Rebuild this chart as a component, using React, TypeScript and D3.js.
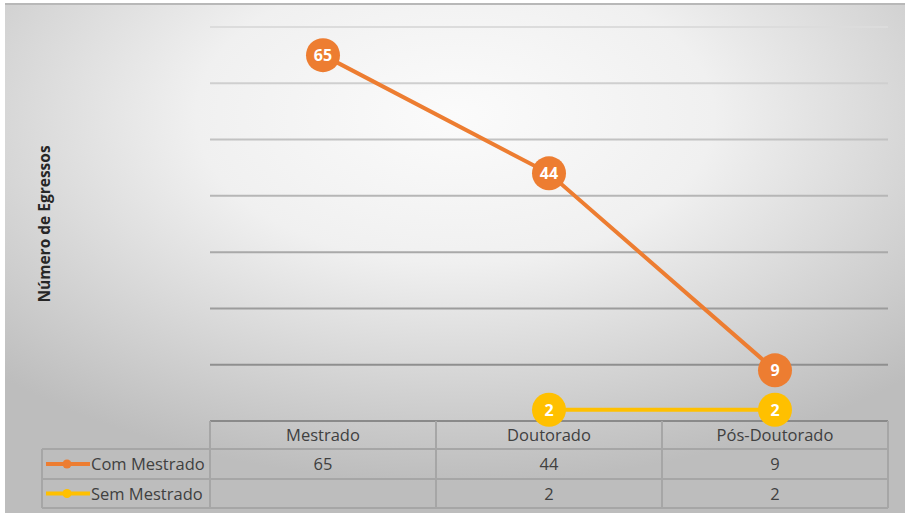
import React, { useEffect, useRef } from 'react';
import * as d3 from 'd3';

const categories = ['Mestrado', 'Doutorado', 'Pós-Doutorado'];
const comMestrado = [65, 44, 9];
const semMestrado = [null, 2, 2];
const seriesNames = ['Com Mestrado', 'Sem Mestrado'];
const seriesColors = ['#ED7D31', '#FFC000'];
const yTicks = [0, 10, 20, 30, 40, 50, 60, 70];

const App = () => {
  const svgRef = useRef<SVGSVGElement>(null);

  useEffect(() => {
    const svg = d3.select(svgRef.current);
    const font = "'Open Sans', 'Noto Sans', sans-serif";
    svg.selectAll('*').remove();

    const defs = svg.append('defs');
    const bg = defs.append('radialGradient')
      .attr('id', 'bg')
      .attr('cx', '50%').attr('cy', '22%').attr('r', '72%');
    bg.append('stop').attr('offset', '0%').attr('stop-color', '#fbfbfb');
    bg.append('stop').attr('offset', '40%').attr('stop-color', '#f0f0f0');
    bg.append('stop').attr('offset', '100%').attr('stop-color', '#bdbdbd');

    // chart background
    svg.append('rect')
      .attr('x', 5).attr('y', 3)
      .attr('width', 900).attr('height', 510)
      .attr('fill', 'url(#bg)');
    svg.append('line')
      .attr('x1', 5).attr('x2', 905).attr('y1', 4).attr('y2', 4)
      .attr('stroke', '#b8b8b8').attr('stroke-width', 2);

    const x = d3.scaleBand<string>()
      .domain(categories)
      .range([210, 888]);

    const y = d3.scaleLinear()
      .domain([0, 70])
      .range([421, 27]);

    const gridColor = d3.scaleLinear<string>()
      .domain([70, 10])
      .range(['#dcdcdc', '#8f8f8f']);

    // gridlines
    svg.append('g')
      .selectAll('line')
      .data(yTicks.filter(t => t > 0))
      .join('line')
      .attr('x1', 210).attr('x2', 888)
      .attr('y1', d => y(d)).attr('y2', d => y(d))
      .attr('stroke', d => gridColor(d))
      .attr('stroke-width', 2);

    // y-axis title
    svg.append('text')
      .attr('transform', `translate(50,${(y(0) + y(70)) / 2}) rotate(-90)`)
      .attr('text-anchor', 'middle')
      .attr('font-family', font)
      .attr('font-weight', 'bold')
      .attr('font-size', 15.5)
      .attr('fill', '#262626')
      .text('Número de Egressos');

    // data table
    const rowTop = [421, 449, 479];
    const rowBottom = [449, 479, 508];
    const table = svg.append('g');
    const stroke = '#a6a6a6';
    table.append('line').attr('x1', 210).attr('x2', 888).attr('y1', 421).attr('y2', 421)
      .attr('stroke', '#8a8a8a').attr('stroke-width', 2);
    [449, 479, 508].forEach(yy => {
      table.append('line').attr('x1', 42).attr('x2', 888).attr('y1', yy).attr('y2', yy)
        .attr('stroke', stroke).attr('stroke-width', 2);
    });
    table.append('line').attr('x1', 42).attr('x2', 42).attr('y1', 449).attr('y2', 508)
      .attr('stroke', stroke).attr('stroke-width', 2);
    const vx = [210, ...categories.map(c => (x(c) as number) + x.bandwidth())];
    vx.forEach(xx => {
      table.append('line').attr('x1', xx).attr('x2', xx).attr('y1', 421).attr('y2', 508)
        .attr('stroke', stroke).attr('stroke-width', 2);
    });

    const cx = (c: string) => (x(c) as number) + x.bandwidth() / 2;

    table.selectAll('text.cat')
      .data(categories)
      .join('text')
      .attr('class', 'cat')
      .attr('x', d => cx(d))
      .attr('y', (rowTop[0] + rowBottom[0]) / 2 + 6)
      .attr('text-anchor', 'middle')
      .attr('font-family', font)
      .attr('font-size', 16.5)
      .attr('fill', '#404040')
      .text(d => d);

    const allSeries = [comMestrado, semMestrado];
    allSeries.forEach((vals, si) => {
      const rowMid = (rowTop[si + 1] + rowBottom[si + 1]) / 2;
      table.append('g')
        .selectAll('text')
        .data(vals.map((v, i) => ({ v, c: categories[i] })).filter(d => d.v !== null))
        .join('text')
        .attr('x', d => cx(d.c))
        .attr('y', rowMid + 6)
        .attr('text-anchor', 'middle')
        .attr('font-family', font)
        .attr('font-size', 16.5)
        .attr('fill', '#404040')
        .text(d => String(d.v));

      // legend key
      table.append('line')
        .attr('x1', 46).attr('x2', 90)
        .attr('y1', rowMid).attr('y2', rowMid)
        .attr('stroke', seriesColors[si]).attr('stroke-width', 4);
      table.append('circle')
        .attr('cx', 67).attr('cy', rowMid).attr('r', 4.5)
        .attr('fill', seriesColors[si]);
      table.append('text')
        .attr('x', 91).attr('y', rowMid + 6)
        .attr('font-family', font)
        .attr('font-size', 16.5)
        .attr('fill', '#404040')
        .text(seriesNames[si]);
    });

    // lines and markers
    allSeries.forEach((vals, si) => {
      const pts = vals
        .map((v, i) => ({ v, c: categories[i] }))
        .filter(d => d.v !== null) as { v: number; c: string }[];
      const line = d3.line<{ v: number; c: string }>()
        .x(d => cx(d.c))
        .y(d => y(d.v));
      svg.append('path')
        .datum(pts)
        .attr('d', line)
        .attr('fill', 'none')
        .attr('stroke', seriesColors[si])
        .attr('stroke-width', 4);
      const g = svg.append('g');
      g.selectAll('circle')
        .data(pts)
        .join('circle')
        .attr('cx', d => cx(d.c))
        .attr('cy', d => y(d.v))
        .attr('r', 17)
        .attr('fill', seriesColors[si]);
      g.selectAll('text')
        .data(pts)
        .join('text')
        .attr('x', d => cx(d.c))
        .attr('y', d => y(d.v) + 6)
        .attr('text-anchor', 'middle')
        .attr('font-family', font)
        .attr('font-weight', 'bold')
        .attr('font-size', 16)
        .attr('fill', '#ffffff')
        .text(d => String(d.v));
    });
  }, []);

  return (
    <svg
      ref={svgRef}
      width={908}
      height={516}
      style={{ position: 'absolute', left: 0, top: 0, display: 'block' }}
    ></svg>
  );
};

export default App;
